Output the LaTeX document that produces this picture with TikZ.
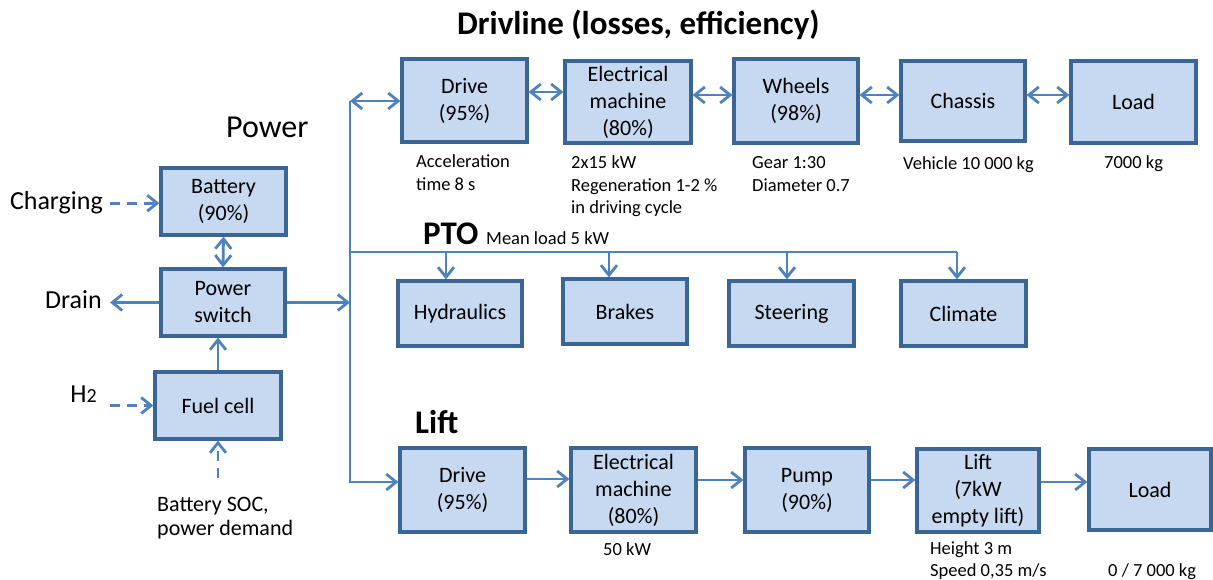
\documentclass[tikz,border=0pt]{standalone}
\usepackage{fontspec}
\setmainfont{Carlito}
\usetikzlibrary{arrows.meta}
\definecolor{boxfill}{HTML}{C6D9F1}
\definecolor{boxline}{HTML}{3A6595}
\definecolor{wirec}{HTML}{4F81BD}
\begin{document}
\begin{tikzpicture}[x=1pt,y=-1pt,
 blk/.style={draw=boxline, line width=3.2pt, fill=boxfill, align=center, inner sep=0pt, font=\fontsize{22}{27}\selectfont},
 lbl/.style={anchor=base west, align=left, inner sep=0pt, font=\fontsize{18.5}{22.5}\selectfont},
 ttl/.style={anchor=base west, inner sep=0pt, font=\bfseries\fontsize{33}{40}\selectfont},
 side/.style={inner sep=0pt, font=\fontsize{26}{30}\selectfont},
 wire/.style={draw=wirec, line width=2.8pt},
 arr/.style={wire, -{Straight Barb[length=10pt,width=16pt]}},
 darr/.style={wire, {Straight Barb[length=10pt,width=16pt]}-{Straight Barb[length=10pt,width=16pt]}},
 dsh/.style={arr, dash pattern=on 10pt off 7pt},
]
\useasboundingbox (0,0) rectangle (1213,580);

% ---------- Power ----------
\node[inner sep=0pt, font=\fontsize{32}{36}\selectfont, anchor=base west] (tpow) at (226,138) {Power};
\node[blk, minimum width=125, minimum height=67] (bat) at (223.5,201.5) {Battery\\(90\%)};
\node[blk, minimum width=124, minimum height=67] (psw) at (223,302.5) {Power\\switch};
\node[blk, minimum width=126, minimum height=67] (fc) at (218,405.5) {Fuel cell};
\node[side, anchor=base east] (chg) at (103,210) {Charging};
\node[side, anchor=base east] (drn) at (102,308) {Drain};
\node[side, anchor=base east] (h2) at (97,402) {H{\fontsize{20}{20}\selectfont 2}};
% multi-line nodes: base anchor = baseline of the last line
\node[anchor=base west, align=left, inner sep=0pt, font=\fontsize{22}{24}\selectfont] (soc) at (157,535) {Battery SOC,\\power demand};
\coordinate (socin) at (218,478);

\draw[dsh, shorten <=7pt] (chg.east) -- (chg.east -| bat.west);
\draw[arr, shorten >=8pt] (psw.west) -- (drn.east |- psw.west);
\draw[dsh, shorten <=13pt] (h2.east |- fc.west) -- (fc.west);
\draw[darr] (bat.south) -- (psw.north);
\draw[arr] (fc.north) -- (fc.north |- psw.south);
\draw[dsh] (socin) -- (fc.south);

% ---------- bus ----------
\coordinate (bt) at (350,101);
\coordinate (pj) at (350,252);
\coordinate (bm) at (350,302.5);
\coordinate (bb) at (350,482);

% ---------- Driveline ----------
\node[ttl] (tdl) at (457,35) {Drivline (losses, efficiency)};
\node[blk, minimum width=125, minimum height=83] (d1) at (464.5,100.5) {Drive\\(95\%)};
\node[blk, minimum width=126, minimum height=82] (em1) at (628,102) {Electrical\\machine\\(80\%)};
\node[blk, minimum width=124, minimum height=84] (wh) at (796,101) {Wheels\\(98\%)};
\node[blk, minimum width=124, minimum height=80] (ch) at (963,101) {Chassis};
\node[blk, minimum width=125, minimum height=82] (ld1) at (1133.5,102) {Load};

\draw[darr] (bt) -- (bt -| d1.west);
\draw[darr] ([yshift=8.5pt]d1.east) coordinate (t1) -- (t1 -| em1.west);
\draw[darr] ([yshift=7pt]em1.east) coordinate (t2) -- (t2 -| wh.west);
\draw[darr] ([yshift=6pt]wh.east) coordinate (t3) -- (t3 -| ch.west);
\draw[darr] ([yshift=6pt]ch.east) coordinate (t4) -- (t4 -| ld1.west);

\node[lbl] (l1) at (416,190.5) {Acceleration\\time 8 s};
\node[lbl] (l2) at (571,214) {2x15 kW\\Regeneration 1-2 \%\\in driving cycle};
\node[lbl] (l3) at (752,191.5) {Gear 1:30\\Diameter 0.7};
\node[lbl] (l4) at (903,170) {Vehicle 10 000 kg};
\node[lbl] (l5) at (1104,169) {7000 kg};

% ---------- PTO ----------
\node[ttl] (tpto) at (423,245) {PTO};
\node[lbl] (tml) at (486,245) {Mean load 5 kW};
\node[blk, minimum width=124, minimum height=65] (hy) at (460,313.5) {Hydraulics};
\node[blk, minimum width=124, minimum height=65] (br) at (625,311.5) {Brakes};
\node[blk, minimum width=125, minimum height=65] (st) at (791.5,313.5) {Steering};
\node[blk, minimum width=125, minimum height=65] (cl) at (963.5,313.5) {Climate};
\coordinate (p1) at (446,252);
\coordinate (p2) at (609,252);
\coordinate (p3) at (787,252);
\coordinate (p4) at (957,252);
\draw[wire] (pj) -- (p4);
\draw[arr] (p1) -- (p1 |- hy.north);
\draw[arr] (p2) -- (p2 |- br.north);
\draw[arr] (p3) -- (p3 |- st.north);
\draw[arr] (p4) -- (p4 |- cl.north);

% ---------- Lift ----------
\node[ttl] (tlift) at (415,433) {Lift};
\node[blk, minimum width=125, minimum height=84] (d2) at (462.5,490) {Drive\\(95\%)};
\node[blk, minimum width=125, minimum height=84] (em2) at (633.5,490) {Electrical\\machine\\(80\%)};
\node[blk, minimum width=124, minimum height=84] (pu) at (807,490) {Pump\\(90\%)};
\node[blk, minimum width=122, minimum height=83] (li) at (978,490.5) {Lift\\(7kW\\empty lift)};
\node[blk, minimum width=122, minimum height=81] (ld2) at (1150,489.5) {Load};

\draw[arr] ([yshift=11pt]d2.east) coordinate (u1) -- (u1 -| em2.west);
\draw[arr] ([yshift=10pt]em2.east) coordinate (u2) -- (u2 -| pu.west);
\draw[arr] ([yshift=10pt]pu.east) coordinate (u3) -- (u3 -| li.west);
\draw[arr] ([yshift=8.5pt]li.east) coordinate (u4) -- (u4 -| ld2.west);

\node[lbl] (l6) at (603,555) {50 kW};
\node[lbl] (l7) at (930,576.5) {Height 3 m\\Speed 0,35 m/s};
\node[lbl] (l8) at (1108,576.5) {0 / 7 000 kg};

% bus lines
\draw[arr] (psw.east) -- (bm);
\draw[arr] (bt) -- (bb) -- (bb -| d2.west);
\end{tikzpicture}
\end{document}
